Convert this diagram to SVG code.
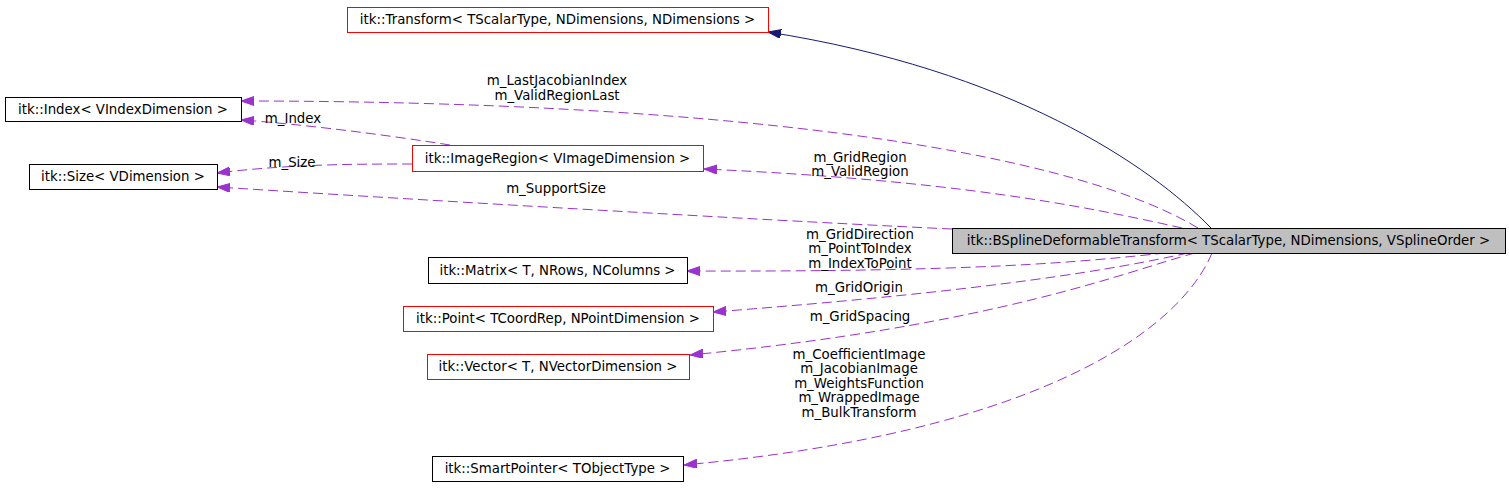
<svg xmlns="http://www.w3.org/2000/svg" width="1509" height="497" viewBox="0 0 1509 497">
<style>
text{font-family:"DejaVu Sans","Liberation Sans",sans-serif;font-size:13.33px;fill:#000}
.n{text-anchor:middle}
.box{fill:#fff;stroke:#000;stroke-width:1}
.red{fill:#fff;stroke:#ff0000;stroke-width:1}
.cur{fill:#bfbfbf;stroke:#000;stroke-width:1}
.use{fill:none;stroke:#9a32cd;stroke-width:1;stroke-dasharray:10,5;marker-end:url(#ap)}
.inh{fill:none;stroke:#191970;stroke-width:1;marker-end:url(#an)}
</style>
<defs>
<marker id="ap" markerUnits="userSpaceOnUse" markerWidth="14" markerHeight="10" refX="13" refY="4.5" orient="auto">
<path d="M0,0 L13,4.5 L0,9 z" fill="#9a32cd" stroke="#9a32cd" stroke-width="1"/>
</marker>
<marker id="an" markerUnits="userSpaceOnUse" markerWidth="14" markerHeight="10" refX="13" refY="4.5" orient="auto">
<path d="M0,0 L13,4.5 L0,9 z" fill="#191970" stroke="#191970" stroke-width="1"/>
</marker>
</defs>
<rect width="1509" height="497" fill="#fff"/>
<g id="edges">
<path class="inh" d="M1211,228 C1150,165 1010,70 768,32"/>
<path class="use" d="M1198,228 C1060,145 700,101 241,101"/>
<path class="use" d="M450,145 C380,134 300,124 241,120"/>
<path class="use" d="M412,164 C360,164 290,164 217,173"/>
<path class="use" d="M1182,228 C1080,205 950,180 704,169"/>
<path class="use" d="M952,229 C800,222 500,205 217,187"/>
<path class="use" d="M1165,253 C1080,262 980,272 687,271"/>
<path class="use" d="M1188,253 C1120,268 1000,290 713,312"/>
<path class="use" d="M1195,253 C1130,270 1000,325 690,355"/>
<path class="use" d="M1212,253 C1180,330 1040,432 684,465"/>
<g id="labels">
<text class="n" x="557" y="85">m_LastJacobianIndex</text>
<text class="n" x="557" y="100">m_ValidRegionLast</text>
<text class="n" x="293" y="123">m_Index</text>
<text class="n" x="292" y="167">m_Size</text>
<text class="n" x="860" y="162">m_GridRegion</text>
<text class="n" x="860" y="176">m_ValidRegion</text>
<text class="n" x="556" y="193">m_SupportSize</text>
<text class="n" x="860" y="239">m_GridDirection</text>
<text class="n" x="860" y="253">m_PointToIndex</text>
<text class="n" x="860" y="268">m_IndexToPoint</text>
<text class="n" x="859" y="292">m_GridOrigin</text>
<text class="n" x="860" y="321">m_GridSpacing</text>
<text class="n" x="859" y="359">m_CoefficientImage</text>
<text class="n" x="859" y="373">m_JacobianImage</text>
<text class="n" x="859" y="388">m_WeightsFunction</text>
<text class="n" x="859" y="402">m_WrappedImage</text>
<text class="n" x="859" y="417">m_BulkTransform</text>
</g>
</g>
<g id="transform"><rect class="red" x="347.5" y="7.5" width="421" height="25"/><text class="n" x="557.5" y="24">itk::Transform&lt; TScalarType, NDimensions, NDimensions &gt;</text></g>
<g id="index"><rect class="box" x="5.5" y="97.5" width="236" height="24"/><text class="n" x="123" y="114">itk::Index&lt; VIndexDimension &gt;</text></g>
<g id="size"><rect class="box" x="29.5" y="164.5" width="188" height="25"/><text class="n" x="123" y="181">itk::Size&lt; VDimension &gt;</text></g>
<g id="imageregion"><rect class="red" x="412.5" y="145.5" width="291" height="26"/><text class="n" x="557.5" y="163">itk::ImageRegion&lt; VImageDimension &gt;</text></g>
<g id="bspline"><rect class="cur" x="952.5" y="228.5" width="553" height="25"/><text class="n" x="1228.5" y="245">itk::BSplineDeformableTransform&lt; TScalarType, NDimensions, VSplineOrder &gt;</text></g>
<g id="matrix"><rect class="box" x="428.5" y="257.5" width="259" height="26"/><text class="n" x="557.5" y="275">itk::Matrix&lt; T, NRows, NColumns &gt;</text></g>
<g id="point"><rect class="red" x="403.5" y="306.5" width="310" height="25"/><text class="n" x="558" y="323">itk::Point&lt; TCoordRep, NPointDimension &gt;</text></g>
<g id="vector"><rect class="red" x="427.5" y="354.5" width="262" height="25"/><text class="n" x="558" y="371">itk::Vector&lt; T, NVectorDimension &gt;</text></g>
<g id="smartpointer"><rect class="box" x="432.5" y="456.5" width="251" height="25"/><text class="n" x="557.5" y="473">itk::SmartPointer&lt; TObjectType &gt;</text></g>
</svg>
